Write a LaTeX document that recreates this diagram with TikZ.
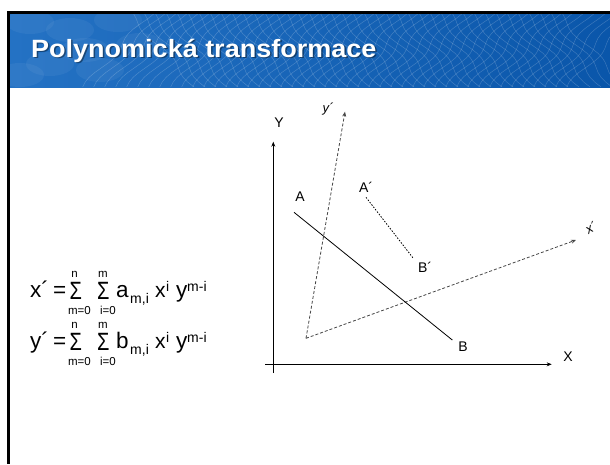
\documentclass[tikz,border=0pt]{standalone}
\usepackage{fontspec}
\setmainfont{Liberation Sans}
\usetikzlibrary{arrows.meta}
\definecolor{bannerL}{RGB}{36,114,196}
\definecolor{bannerR}{RGB}{10,86,170}
\definecolor{dashgray}{RGB}{70,70,70}
\begin{document}
\begin{tikzpicture}[x=1pt,y=-1pt,
  lbl/.style={inner sep=0pt,font=\fontsize{14}{14}\selectfont},
  ilbl/.style={inner sep=0pt,font=\itshape\fontsize{13}{13}\selectfont},
  fm/.style={inner sep=0pt,anchor=base west,font=\fontsize{22.5}{22.5}\selectfont},
  fms/.style={inner sep=0pt,anchor=base west,font=\fontsize{21}{21}\selectfont},
  lim/.style={inner sep=0pt,anchor=base,font=\fontsize{11.5}{11.5}\selectfont},
  sub/.style={inner sep=0pt,anchor=base west,font=\fontsize{14}{14}\selectfont},
  sig/.style={inner sep=0pt,anchor=base west,font=\fontsize{25}{25}\selectfont,xscale=0.8},
  titletext/.style={inner sep=0pt,anchor=base west,font=\bfseries\fontsize{25}{25}\selectfont,xscale=1.08},
  axisline/.style={line width=0.8pt,-{Stealth[length=5pt,width=4pt]}},
  dashline/.style={dashgray,line width=0.8pt,dash pattern=on 3pt off 2pt,-{Stealth[length=5pt,width=4pt]}},
  dotline/.style={line width=0.8pt,dash pattern=on 1.5pt off 1.5pt},
  mesh/.style={white,opacity=0.2,line width=0.5pt},
]
\useasboundingbox (0,0) rectangle (610,464);
\fill[white] (0,0) rectangle (610,464);
% banner
\begin{scope}
\clip (10,14) rectangle (610,87);
\shade[left color=bannerL, right color=bannerR] (10,14) rectangle (610,87);
\foreach \c/\r in {30/22,70/30,118/20,50/64,100/70,140/45,85/50,20/75}
  \fill[white,opacity=0.05] (\c,\r) ellipse (24 and 12);
\foreach \a in {130,141,...,560}
  \draw[mesh] plot[variable=\t,domain=14:87,samples=16] ({\a+0.9*(\t-14)+4*sin(8*\t)},{\t});
\foreach \a in {150,161,...,640}
  \draw[mesh] plot[variable=\t,domain=14:87,samples=16] ({\a-0.9*(\t-14)+4*sin(8*\t)},{\t});
\end{scope}
% frame
\fill[black] (7,11) rectangle (610,14);
\fill[black] (7,11) rectangle (10,464);
% title
\node[titletext,text=black,opacity=0.4] (titleshadow) at (32.5,58.5) {Polynomická transformace};
\node[titletext,text=white] (title) at (31,57) {Polynomická transformace};
% formula 1
\node[fm] (x1) at (30,297.5) {x´};
\node[fm] (eq1) at (53,297.5) {=};
\node[sig] (s11) at (69.5,299) {Σ};
\node[lim] (n1) at (74.5,277.5) {n};
\node[lim] (l11) at (79.5,314) {m=0};
\node[sig] (s12) at (97,299) {Σ};
\node[lim] (m1) at (103,277.5) {m};
\node[lim] (l12) at (108,314) {i=0};
\node[fm] (a1) at (116,297.5) {a};
\node[sub] (ai1) at (130,303) {m,i};
\node[fms] (xx1) at (155,297.5) {x};
\node[sub] (xi1) at (166,291) {i};
\node[fm] (yy1) at (176,297.5) {y};
\node[sub] (ye1) at (187,291) {m-i};
% formula 2
\node[fm] (x2) at (30,348.5) {y´};
\node[fm] (eq2) at (53,348.5) {=};
\node[sig] (s21) at (69.5,350) {Σ};
\node[lim] (n2) at (74.5,328.5) {n};
\node[lim] (l21) at (79.5,365) {m=0};
\node[sig] (s22) at (97,350) {Σ};
\node[lim] (m2) at (103,328.5) {m};
\node[lim] (l22) at (108,365) {i=0};
\node[fm] (b2) at (116,348.5) {b};
\node[sub] (bi2) at (130,354) {m,i};
\node[fms] (xx2) at (155,348.5) {x};
\node[sub] (xi2) at (166,342) {i};
\node[fm] (yy2) at (176,348.5) {y};
\node[sub] (ye2) at (187,342) {m-i};
% axes
\coordinate (yb) at (273.3,373);
\coordinate (yt) at (273.3,141.7);
\coordinate (xl) at (265,364.3);
\coordinate (xr) at (551.7,364.3);
\draw[axisline] (yb) -- (yt);
\draw[axisline] (xl) -- (xr);
\node[lbl] (Y) at (279,123) {Y};
\node[lbl] (X) at (568,357) {X};
% transformed axes
\coordinate (O) at (306,338.3);
\coordinate (ypt) at (345,111.7);
\coordinate (xpt) at (576,240);
\draw[dashline] (O) -- (ypt);
\draw[dashline] (O) -- (xpt);
\node[ilbl] (yp) at (328,109) {y´};
\node[ilbl,rotate=30] (xp) at (591,228) {x´};
% segments
\coordinate (A) at (294,212.3);
\coordinate (B) at (452.3,340);
\draw[line width=0.8pt] (A) -- (B);
\node[lbl] (Al) at (300,197) {A};
\node[lbl] (Bl) at (463,347) {B};
\coordinate (A2) at (366,197.3);
\coordinate (B2) at (413.3,258.3);
\draw[dotline] (A2) -- (B2);
\node[lbl] (A2l) at (366,187) {A´};
\node[lbl] (B2l) at (425,267) {B´};
\end{tikzpicture}
\end{document}
